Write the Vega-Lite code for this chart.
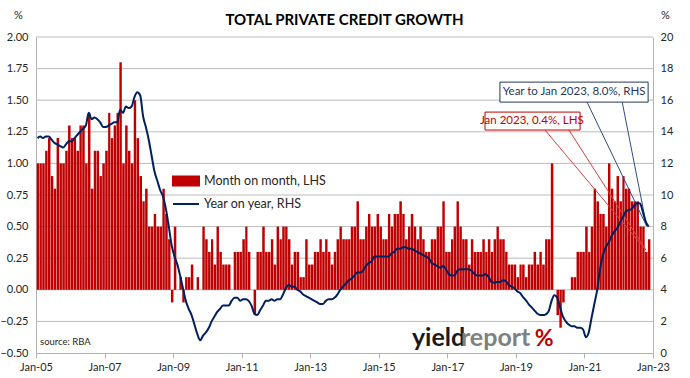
{
  "$schema": "https://vega.github.io/schema/vega-lite/v6.json",
  "width": 617,
  "height": 316,
  "autosize": {"type": "none"},
  "padding": {"left": 36, "top": 37, "right": 37, "bottom": 25},
  "background": "white",
  "config": {
    "view": {"stroke": null},
    "font": "Lato",
    "axis": {"labelFont": "Lato", "titleFont": "Lato", "labelColor": "#262626", "titleColor": "#262626"}
  },
  "title": {"text": "TOTAL PRIVATE CREDIT GROWTH", "font": "Lato", "fontSize": 15, "fontWeight": "bold", "color": "#000000", "offset": -19, "anchor": "middle", "frame": "group"},
  "datasets": {
    "credit": [
      {"date":"2005-01-01","mom":1.0,"yoy":13.6},{"date":"2005-02-01","mom":1.0,"yoy":13.7},{"date":"2005-03-01","mom":1.0,"yoy":13.6},{"date":"2005-04-01","mom":1.1,"yoy":13.7},{"date":"2005-05-01","mom":1.2,"yoy":13.7},{"date":"2005-06-01","mom":0.9,"yoy":13.5},{"date":"2005-07-01","mom":0.8,"yoy":13.3},{"date":"2005-08-01","mom":1.2,"yoy":13.2},{"date":"2005-09-01","mom":1.0,"yoy":13.1},{"date":"2005-10-01","mom":1.0,"yoy":13.0},{"date":"2005-11-01","mom":1.1,"yoy":13.2},{"date":"2005-12-01","mom":1.3,"yoy":13.4},
      {"date":"2006-01-01","mom":1.2,"yoy":13.4},{"date":"2006-02-01","mom":1.2,"yoy":13.6},{"date":"2006-03-01","mom":1.1,"yoy":13.8},{"date":"2006-04-01","mom":1.3,"yoy":14.0},{"date":"2006-05-01","mom":1.3,"yoy":14.2},{"date":"2006-06-01","mom":1.0,"yoy":14.4},{"date":"2006-07-01","mom":1.4,"yoy":15.2},{"date":"2006-08-01","mom":0.8,"yoy":14.8},{"date":"2006-09-01","mom":1.1,"yoy":14.9},{"date":"2006-10-01","mom":1.1,"yoy":14.8},{"date":"2006-11-01","mom":0.9,"yoy":14.6},{"date":"2006-12-01","mom":1.0,"yoy":14.3},
      {"date":"2007-01-01","mom":1.1,"yoy":14.3},{"date":"2007-02-01","mom":1.4,"yoy":14.4},{"date":"2007-03-01","mom":1.2,"yoy":14.5},{"date":"2007-04-01","mom":1.3,"yoy":14.6},{"date":"2007-05-01","mom":1.4,"yoy":14.6},{"date":"2007-06-01","mom":1.8,"yoy":15.4},{"date":"2007-07-01","mom":1.0,"yoy":15.2},{"date":"2007-08-01","mom":1.3,"yoy":15.6},{"date":"2007-09-01","mom":1.1,"yoy":15.5},{"date":"2007-10-01","mom":1.0,"yoy":15.6},{"date":"2007-11-01","mom":1.5,"yoy":16.2},{"date":"2007-12-01","mom":1.2,"yoy":16.5},
      {"date":"2008-01-01","mom":0.9,"yoy":16.3},{"date":"2008-02-01","mom":0.7,"yoy":15.0},{"date":"2008-03-01","mom":0.8,"yoy":14.3},{"date":"2008-04-01","mom":0.5,"yoy":13.5},{"date":"2008-05-01","mom":0.5,"yoy":12.5},{"date":"2008-06-01","mom":0.6,"yoy":11.5},{"date":"2008-07-01","mom":0.5,"yoy":10.9},{"date":"2008-08-01","mom":0.5,"yoy":10.3},{"date":"2008-09-01","mom":0.8,"yoy":9.9},{"date":"2008-10-01","mom":0.6,"yoy":9.1},{"date":"2008-11-01","mom":0.4,"yoy":8.0},{"date":"2008-12-01","mom":-0.1,"yoy":6.8},
      {"date":"2009-01-01","mom":0.5,"yoy":6.1},{"date":"2009-02-01","mom":0.0,"yoy":5.6},{"date":"2009-03-01","mom":0.1,"yoy":4.9},{"date":"2009-04-01","mom":-0.1,"yoy":4.1},{"date":"2009-05-01","mom":0.1,"yoy":3.3},{"date":"2009-06-01","mom":0.1,"yoy":2.8},{"date":"2009-07-01","mom":0.2,"yoy":2.4},{"date":"2009-08-01","mom":0.0,"yoy":1.8},{"date":"2009-09-01","mom":0.1,"yoy":1.2},{"date":"2009-10-01","mom":0.0,"yoy":0.8},{"date":"2009-11-01","mom":0.5,"yoy":1.1},{"date":"2009-12-01","mom":0.4,"yoy":1.3},
      {"date":"2010-01-01","mom":0.3,"yoy":1.6},{"date":"2010-02-01","mom":0.4,"yoy":2.0},{"date":"2010-03-01","mom":0.2,"yoy":2.3},{"date":"2010-04-01","mom":0.5,"yoy":2.6},{"date":"2010-05-01","mom":0.3,"yoy":2.8},{"date":"2010-06-01","mom":0.2,"yoy":3.0},{"date":"2010-07-01","mom":0.2,"yoy":3.0},{"date":"2010-08-01","mom":0.2,"yoy":3.0},{"date":"2010-09-01","mom":0.0,"yoy":3.3},{"date":"2010-10-01","mom":0.3,"yoy":3.5},{"date":"2010-11-01","mom":0.3,"yoy":3.5},{"date":"2010-12-01","mom":0.3,"yoy":3.3},
      {"date":"2011-01-01","mom":0.4,"yoy":3.4},{"date":"2011-02-01","mom":0.5,"yoy":3.4},{"date":"2011-03-01","mom":0.3,"yoy":3.3},{"date":"2011-04-01","mom":0.0,"yoy":3.0},{"date":"2011-05-01","mom":-0.2,"yoy":2.5},{"date":"2011-06-01","mom":0.3,"yoy":2.4},{"date":"2011-07-01","mom":0.3,"yoy":2.7},{"date":"2011-08-01","mom":0.5,"yoy":3.0},{"date":"2011-09-01","mom":0.3,"yoy":3.3},{"date":"2011-10-01","mom":0.3,"yoy":3.3},{"date":"2011-11-01","mom":0.4,"yoy":3.4},{"date":"2011-12-01","mom":0.2,"yoy":3.3},
      {"date":"2012-01-01","mom":0.5,"yoy":3.4},{"date":"2012-02-01","mom":0.4,"yoy":3.4},{"date":"2012-03-01","mom":0.5,"yoy":3.7},{"date":"2012-04-01","mom":0.5,"yoy":4.1},{"date":"2012-05-01","mom":0.4,"yoy":4.3},{"date":"2012-06-01","mom":0.2,"yoy":4.2},{"date":"2012-07-01","mom":0.3,"yoy":4.2},{"date":"2012-08-01","mom":0.3,"yoy":4.0},{"date":"2012-09-01","mom":0.1,"yoy":3.9},{"date":"2012-10-01","mom":0.1,"yoy":3.7},{"date":"2012-11-01","mom":0.4,"yoy":3.6},{"date":"2012-12-01","mom":0.2,"yoy":3.5},
      {"date":"2013-01-01","mom":0.2,"yoy":3.4},{"date":"2013-02-01","mom":0.3,"yoy":3.3},{"date":"2013-03-01","mom":0.3,"yoy":3.2},{"date":"2013-04-01","mom":0.4,"yoy":3.1},{"date":"2013-05-01","mom":0.3,"yoy":3.1},{"date":"2013-06-01","mom":0.4,"yoy":3.3},{"date":"2013-07-01","mom":0.3,"yoy":3.4},{"date":"2013-08-01","mom":0.2,"yoy":3.4},{"date":"2013-09-01","mom":0.3,"yoy":3.5},{"date":"2013-10-01","mom":0.4,"yoy":3.7},{"date":"2013-11-01","mom":0.5,"yoy":4.0},{"date":"2013-12-01","mom":0.4,"yoy":4.2},
      {"date":"2014-01-01","mom":0.4,"yoy":4.4},{"date":"2014-02-01","mom":0.4,"yoy":4.6},{"date":"2014-03-01","mom":0.5,"yoy":4.7},{"date":"2014-04-01","mom":0.5,"yoy":4.9},{"date":"2014-05-01","mom":0.7,"yoy":5.1},{"date":"2014-06-01","mom":0.4,"yoy":5.1},{"date":"2014-07-01","mom":0.4,"yoy":5.2},{"date":"2014-08-01","mom":0.5,"yoy":5.5},{"date":"2014-09-01","mom":0.6,"yoy":5.7},{"date":"2014-10-01","mom":0.5,"yoy":5.8},{"date":"2014-11-01","mom":0.5,"yoy":6.1},{"date":"2014-12-01","mom":0.6,"yoy":6.1},
      {"date":"2015-01-01","mom":0.5,"yoy":6.1},{"date":"2015-02-01","mom":0.4,"yoy":6.1},{"date":"2015-03-01","mom":0.4,"yoy":6.1},{"date":"2015-04-01","mom":0.6,"yoy":6.1},{"date":"2015-05-01","mom":0.5,"yoy":6.3},{"date":"2015-06-01","mom":0.6,"yoy":6.4},{"date":"2015-07-01","mom":0.6,"yoy":6.6},{"date":"2015-08-01","mom":0.7,"yoy":6.6},{"date":"2015-09-01","mom":0.6,"yoy":6.7},{"date":"2015-10-01","mom":0.4,"yoy":6.7},{"date":"2015-11-01","mom":0.5,"yoy":6.6},{"date":"2015-12-01","mom":0.6,"yoy":6.6},
      {"date":"2016-01-01","mom":0.5,"yoy":6.5},{"date":"2016-02-01","mom":0.4,"yoy":6.4},{"date":"2016-03-01","mom":0.5,"yoy":6.3},{"date":"2016-04-01","mom":0.4,"yoy":6.2},{"date":"2016-05-01","mom":0.3,"yoy":6.1},{"date":"2016-06-01","mom":0.3,"yoy":6.0},{"date":"2016-07-01","mom":0.4,"yoy":5.7},{"date":"2016-08-01","mom":0.4,"yoy":5.6},{"date":"2016-09-01","mom":0.5,"yoy":5.5},{"date":"2016-10-01","mom":0.5,"yoy":5.4},{"date":"2016-11-01","mom":0.7,"yoy":5.5},{"date":"2016-12-01","mom":0.3,"yoy":5.3},
      {"date":"2017-01-01","mom":0.3,"yoy":5.0},{"date":"2017-02-01","mom":0.4,"yoy":4.9},{"date":"2017-03-01","mom":0.5,"yoy":4.9},{"date":"2017-04-01","mom":0.7,"yoy":5.2},{"date":"2017-05-01","mom":0.5,"yoy":5.3},{"date":"2017-06-01","mom":0.4,"yoy":5.3},{"date":"2017-07-01","mom":0.4,"yoy":5.3},{"date":"2017-08-01","mom":0.2,"yoy":5.3},{"date":"2017-09-01","mom":0.4,"yoy":5.2},{"date":"2017-10-01","mom":0.3,"yoy":5.0},{"date":"2017-11-01","mom":0.3,"yoy":4.9},{"date":"2017-12-01","mom":0.3,"yoy":4.9},
      {"date":"2018-01-01","mom":0.4,"yoy":4.9},{"date":"2018-02-01","mom":0.3,"yoy":5.0},{"date":"2018-03-01","mom":0.4,"yoy":4.8},{"date":"2018-04-01","mom":0.3,"yoy":4.5},{"date":"2018-05-01","mom":0.4,"yoy":4.45},{"date":"2018-06-01","mom":0.5,"yoy":4.5},{"date":"2018-07-01","mom":0.4,"yoy":4.5},{"date":"2018-08-01","mom":0.4,"yoy":4.6},{"date":"2018-09-01","mom":0.3,"yoy":4.55},{"date":"2018-10-01","mom":0.2,"yoy":4.3},{"date":"2018-11-01","mom":0.2,"yoy":4.2},{"date":"2018-12-01","mom":0.2,"yoy":4.1},
      {"date":"2019-01-01","mom":0.1,"yoy":3.9},{"date":"2019-02-01","mom":0.2,"yoy":3.8},{"date":"2019-03-01","mom":0.2,"yoy":3.55},{"date":"2019-04-01","mom":0.1,"yoy":3.35},{"date":"2019-05-01","mom":0.2,"yoy":3.1},{"date":"2019-06-01","mom":0.2,"yoy":2.9},{"date":"2019-07-01","mom":0.3,"yoy":2.7},{"date":"2019-08-01","mom":0.2,"yoy":2.5},{"date":"2019-09-01","mom":0.3,"yoy":2.4},{"date":"2019-10-01","mom":0.2,"yoy":2.4},{"date":"2019-11-01","mom":0.4,"yoy":2.45},{"date":"2019-12-01","mom":0.4,"yoy":2.65},
      {"date":"2020-01-01","mom":1.0,"yoy":3.3},{"date":"2020-02-01","mom":0.0,"yoy":3.65},{"date":"2020-03-01","mom":-0.2,"yoy":3.5},{"date":"2020-04-01","mom":-0.3,"yoy":2.9},{"date":"2020-05-01","mom":-0.1,"yoy":2.3},{"date":"2020-06-01","mom":0.0,"yoy":2.0},{"date":"2020-07-01","mom":0.0,"yoy":1.8},{"date":"2020-08-01","mom":0.1,"yoy":1.7},{"date":"2020-09-01","mom":0.1,"yoy":1.7},{"date":"2020-10-01","mom":0.3,"yoy":1.6},{"date":"2020-11-01","mom":0.3,"yoy":1.6},{"date":"2020-12-01","mom":0.3,"yoy":1.5},
      {"date":"2021-01-01","mom":0.5,"yoy":1.0},{"date":"2021-02-01","mom":0.3,"yoy":1.3},{"date":"2021-03-01","mom":0.5,"yoy":2.2},{"date":"2021-04-01","mom":0.8,"yoy":3.1},{"date":"2021-05-01","mom":0.7,"yoy":4.0},{"date":"2021-06-01","mom":0.6,"yoy":5.3},{"date":"2021-07-01","mom":0.6,"yoy":6.2},{"date":"2021-08-01","mom":0.5,"yoy":6.7},{"date":"2021-09-01","mom":1.0,"yoy":7.0},{"date":"2021-10-01","mom":0.8,"yoy":7.4},{"date":"2021-11-01","mom":0.7,"yoy":7.7},{"date":"2021-12-01","mom":0.9,"yoy":7.9},
      {"date":"2022-01-01","mom":0.7,"yoy":8.3},{"date":"2022-02-01","mom":0.9,"yoy":8.6},{"date":"2022-03-01","mom":0.8,"yoy":8.95},{"date":"2022-04-01","mom":0.8,"yoy":9.05},{"date":"2022-05-01","mom":0.7,"yoy":9.1},{"date":"2022-06-01","mom":0.7,"yoy":9.35},{"date":"2022-07-01","mom":0.7,"yoy":9.5},{"date":"2022-08-01","mom":0.5,"yoy":9.45},{"date":"2022-09-01","mom":0.5,"yoy":8.9},{"date":"2022-10-01","mom":0.3,"yoy":8.3},{"date":"2022-11-01","mom":0.4,"yoy":8.0}
    ]
  },
  "layer": [
    {
      "data": {"values": [{"g": -0.25}, {"g": 0}, {"g": 0.25}, {"g": 0.5}, {"g": 0.75}, {"g": 1.0}, {"g": 1.25}, {"g": 1.5}, {"g": 1.75}, {"g": 2.0}]},
      "mark": {"type": "rule", "color": "#bcbcbc", "strokeWidth": 1},
      "encoding": {
        "x": {"datum": {"year": 2005, "month": 1, "date": 1, "utc": true}, "type": "temporal", "axis": null, "scale": {"type": "utc", "domain": [{"year": 2005, "month": 1, "date": 1, "utc": true}, {"year": 2023, "month": 1, "date": 1, "utc": true}]}},
        "x2": {"datum": {"year": 2023, "month": 1, "date": 1, "utc": true}},
        "y": {"field": "g", "type": "quantitative", "axis": null, "scale": {"domain": [-0.5, 2.0], "nice": false, "zero": false}}
      }
    },
    {
      "data": {"name": "credit"},
      "mark": {"type": "bar", "binSpacing": 0.4},
      "encoding": {
        "x": {
          "field": "date", "timeUnit": "utcyearmonth", "type": "temporal", "title": null,
          "scale": {"type": "utc", "domain": [{"year": 2005, "month": 1, "date": 1, "utc": true}, {"year": 2023, "month": 1, "date": 1, "utc": true}]},
          "axis": {
            "values": [
              {"year": 2005, "month": 1, "date": 1, "utc": true}, {"year": 2007, "month": 1, "date": 1, "utc": true},
              {"year": 2009, "month": 1, "date": 1, "utc": true}, {"year": 2011, "month": 1, "date": 1, "utc": true},
              {"year": 2013, "month": 1, "date": 1, "utc": true}, {"year": 2015, "month": 1, "date": 1, "utc": true},
              {"year": 2017, "month": 1, "date": 1, "utc": true}, {"year": 2019, "month": 1, "date": 1, "utc": true},
              {"year": 2021, "month": 1, "date": 1, "utc": true}, {"year": 2023, "month": 1, "date": 1, "utc": true}
            ],
            "labelExpr": "utcFormat(datum.value, '%b-%y')", "grid": false,
            "domainColor": "#b3b3b3", "tickColor": "#b3b3b3", "tickSize": 5,
            "labelFontSize": 11, "labelPadding": 3, "labelFlush": false, "labelOverlap": false
          }
        },
        "y": {
          "field": "mom", "type": "quantitative",
          "scale": {"domain": [-0.5, 2.0], "nice": false, "zero": false},
          "axis": {
            "orient": "left",
            "values": [-0.5, -0.25, 0, 0.25, 0.5, 0.75, 1.0, 1.25, 1.5, 1.75, 2.0],
            "format": ".2f", "grid": false, "ticks": false,
            "domainColor": "#b3b3b3", "labelFontSize": 11, "labelPadding": 8, "labelOverlap": false,
            "title": "%", "titleAngle": 0, "titleX": -18, "titleY": -22, "titleAlign": "center",
            "titleBaseline": "middle", "titleFontWeight": "normal", "titleFontSize": 11
          }
        },
        "color": {
          "datum": "Month on month, LHS", "type": "nominal",
          "scale": {"domain": ["Month on month, LHS", "Year on year, RHS"], "range": ["#c00000", "#002060"]},
          "legend": {
            "orient": "none", "legendX": 136, "legendY": 130, "title": null, "padding": 0,
            "symbolSize": 676, "labelFont": "Lato", "labelFontSize": 12.5, "labelColor": "#262626",
            "labelOffset": 4, "rowPadding": -1.5,
            "encode": {
              "symbols": {
                "update": {
                  "shape": {"signal": "datum.value === 'Year on year, RHS' ? 'M-1,0H1' : 'M-1,-0.35H1V0.35H-1Z'"},
                  "fill": {"signal": "datum.value === 'Year on year, RHS' ? 'transparent' : '#c00000'"},
                  "stroke": {"signal": "datum.value === 'Year on year, RHS' ? '#002060' : 'transparent'"},
                  "strokeWidth": {"value": 2},
                  "opacity": {"value": 1}
                }
              }
            }
          }
        }
      }
    },
    {
      "data": {"values": [
        {"x0": "2021-01-28", "y0": 1.485, "x1": "2022-10-25", "y1": 0.504},
        {"x0": "2022-02-07", "y0": 1.485, "x1": "2022-10-25", "y1": 0.504}
      ]},
      "mark": {"type": "rule", "color": "#2f4b86", "strokeWidth": 1},
      "encoding": {
        "x": {"field": "x0", "type": "temporal", "axis": null, "scale": {"type": "utc", "domain": [{"year": 2005, "month": 1, "date": 1, "utc": true}, {"year": 2023, "month": 1, "date": 1, "utc": true}]}},
        "x2": {"field": "x1"},
        "y": {"field": "y0", "type": "quantitative", "axis": null, "scale": {"domain": [-0.5, 2.0], "nice": false, "zero": false}},
        "y2": {"field": "y1"}
      }
    },
    {
      "data": {"values": [
        {"x0": "2019-11-07", "y0": 1.264, "x1": "2022-10-18", "y1": 0.314},
        {"x0": "2020-07-19", "y0": 1.264, "x1": "2022-10-18", "y1": 0.314}
      ]},
      "mark": {"type": "rule", "color": "#e0403a", "strokeWidth": 1},
      "encoding": {
        "x": {"field": "x0", "type": "temporal", "axis": null, "scale": {"type": "utc", "domain": [{"year": 2005, "month": 1, "date": 1, "utc": true}, {"year": 2023, "month": 1, "date": 1, "utc": true}]}},
        "x2": {"field": "x1"},
        "y": {"field": "y0", "type": "quantitative", "axis": null, "scale": {"domain": [-0.5, 2.0], "nice": false, "zero": false}},
        "y2": {"field": "y1"}
      }
    },
    {
      "data": {"values": [{"x0": "2018-07-15", "x1": "2022-11-10", "y0": 1.643, "y1": 1.485}]},
      "mark": {"type": "rect", "fill": "white", "stroke": "#1f3864", "strokeWidth": 1},
      "encoding": {
        "x": {"field": "x0", "type": "temporal", "axis": null, "scale": {"type": "utc", "domain": [{"year": 2005, "month": 1, "date": 1, "utc": true}, {"year": 2023, "month": 1, "date": 1, "utc": true}]}},
        "x2": {"field": "x1"},
        "y": {"field": "y0", "type": "quantitative", "axis": null, "scale": {"domain": [-0.5, 2.0], "nice": false, "zero": false}},
        "y2": {"field": "y1"}
      }
    },
    {
      "data": {"values": [{"x0": "2018-02-06", "x1": "2020-11-15", "y0": 1.406, "y1": 1.264}]},
      "mark": {"type": "rect", "fill": "white", "stroke": "#c00000", "strokeWidth": 1},
      "encoding": {
        "x": {"field": "x0", "type": "temporal", "axis": null, "scale": {"type": "utc", "domain": [{"year": 2005, "month": 1, "date": 1, "utc": true}, {"year": 2023, "month": 1, "date": 1, "utc": true}]}},
        "x2": {"field": "x1"},
        "y": {"field": "y0", "type": "quantitative", "axis": null, "scale": {"domain": [-0.5, 2.0], "nice": false, "zero": false}},
        "y2": {"field": "y1"}
      }
    },
    {
      "data": {"values": [{"x": "2020-09-12", "y": 1.564, "label": "Year to Jan 2023, 8.0%, RHS"}]},
      "mark": {"type": "text", "font": "Lato", "fontSize": 11.5, "color": "#1f3864", "align": "center", "baseline": "middle"},
      "encoding": {
        "x": {"field": "x", "type": "temporal", "axis": null, "scale": {"type": "utc", "domain": [{"year": 2005, "month": 1, "date": 1, "utc": true}, {"year": 2023, "month": 1, "date": 1, "utc": true}]}},
        "y": {"field": "y", "type": "quantitative", "axis": null, "scale": {"domain": [-0.5, 2.0], "nice": false, "zero": false}},
        "text": {"field": "label"}
      }
    },
    {
      "data": {"values": [{"x": "2019-06-20", "y": 1.335, "label": "Jan 2023, 0.4%, LHS"}]},
      "mark": {"type": "text", "font": "Lato", "fontSize": 11.5, "color": "#c00000", "align": "center", "baseline": "middle"},
      "encoding": {
        "x": {"field": "x", "type": "temporal", "axis": null, "scale": {"type": "utc", "domain": [{"year": 2005, "month": 1, "date": 1, "utc": true}, {"year": 2023, "month": 1, "date": 1, "utc": true}]}},
        "y": {"field": "y", "type": "quantitative", "axis": null, "scale": {"domain": [-0.5, 2.0], "nice": false, "zero": false}},
        "text": {"field": "label"}
      }
    },
    {
      "data": {"values": [{"x": "2005-02-13", "y": -0.44, "label": "source: RBA"}]},
      "mark": {"type": "text", "font": "Lato", "fontSize": 9.5, "color": "#262626", "align": "left", "baseline": "alphabetic"},
      "encoding": {
        "x": {"field": "x", "type": "temporal", "axis": null, "scale": {"type": "utc", "domain": [{"year": 2005, "month": 1, "date": 1, "utc": true}, {"year": 2023, "month": 1, "date": 1, "utc": true}]}},
        "y": {"field": "y", "type": "quantitative", "axis": null, "scale": {"domain": [-0.5, 2.0], "nice": false, "zero": false}},
        "text": {"field": "label"}
      }
    },
    {
      "data": {"values": [{"x": "2015-12-20", "y": -0.445, "label": "yield"}]},
      "mark": {"type": "text", "font": "Lato", "fontSize": 25, "fontWeight": "bold", "color": "#1a1a1a", "align": "left", "baseline": "alphabetic"},
      "encoding": {
        "x": {"field": "x", "type": "temporal", "axis": null, "scale": {"type": "utc", "domain": [{"year": 2005, "month": 1, "date": 1, "utc": true}, {"year": 2023, "month": 1, "date": 1, "utc": true}]}},
        "y": {"field": "y", "type": "quantitative", "axis": null, "scale": {"domain": [-0.5, 2.0], "nice": false, "zero": false}},
        "text": {"field": "label"}
      }
    },
    {
      "data": {"values": [{"x": "2017-05-25", "y": -0.445, "label": "report"}]},
      "mark": {"type": "text", "font": "Lato", "fontSize": 25, "fontWeight": "bold", "color": "#808080", "align": "left", "baseline": "alphabetic"},
      "encoding": {
        "x": {"field": "x", "type": "temporal", "axis": null, "scale": {"type": "utc", "domain": [{"year": 2005, "month": 1, "date": 1, "utc": true}, {"year": 2023, "month": 1, "date": 1, "utc": true}]}},
        "y": {"field": "y", "type": "quantitative", "axis": null, "scale": {"domain": [-0.5, 2.0], "nice": false, "zero": false}},
        "text": {"field": "label"}
      }
    },
    {
      "data": {"values": [{"x": "2019-07-20", "y": -0.445, "label": "%"}]},
      "mark": {"type": "text", "font": "Lato", "fontSize": 23, "fontWeight": "bold", "color": "#c00000", "align": "left", "baseline": "alphabetic"},
      "encoding": {
        "x": {"field": "x", "type": "temporal", "axis": null, "scale": {"type": "utc", "domain": [{"year": 2005, "month": 1, "date": 1, "utc": true}, {"year": 2023, "month": 1, "date": 1, "utc": true}]}},
        "y": {"field": "y", "type": "quantitative", "axis": null, "scale": {"domain": [-0.5, 2.0], "nice": false, "zero": false}},
        "text": {"field": "label"}
      }
    },
    {
      "data": {"name": "credit"},
      "mark": {"type": "line", "strokeWidth": 2, "interpolate": "monotone"},
      "encoding": {
        "x": {"field": "date", "timeUnit": "utcyearmonth", "type": "temporal", "bandPosition": 0.5, "axis": null, "scale": {"type": "utc", "domain": [{"year": 2005, "month": 1, "date": 1, "utc": true}, {"year": 2023, "month": 1, "date": 1, "utc": true}]}},
        "y": {
          "field": "yoy", "type": "quantitative",
          "scale": {"domain": [0, 20], "nice": false},
          "axis": {
            "orient": "right", "values": [0, 2, 4, 6, 8, 10, 12, 14, 16, 18, 20], "format": "d",
            "grid": false, "ticks": false, "domainColor": "#b3b3b3", "labelFontSize": 11, "labelPadding": 7,
            "title": "%", "titleAngle": 0, "titleX": 12, "titleY": -22, "titleAlign": "center",
            "titleBaseline": "middle", "titleFontWeight": "normal", "titleFontSize": 11
          }
        },
        "color": {"datum": "Year on year, RHS", "type": "nominal"}
      }
    }
  ],
  "resolve": {"scale": {"x": "independent", "y": "independent"}}
}
